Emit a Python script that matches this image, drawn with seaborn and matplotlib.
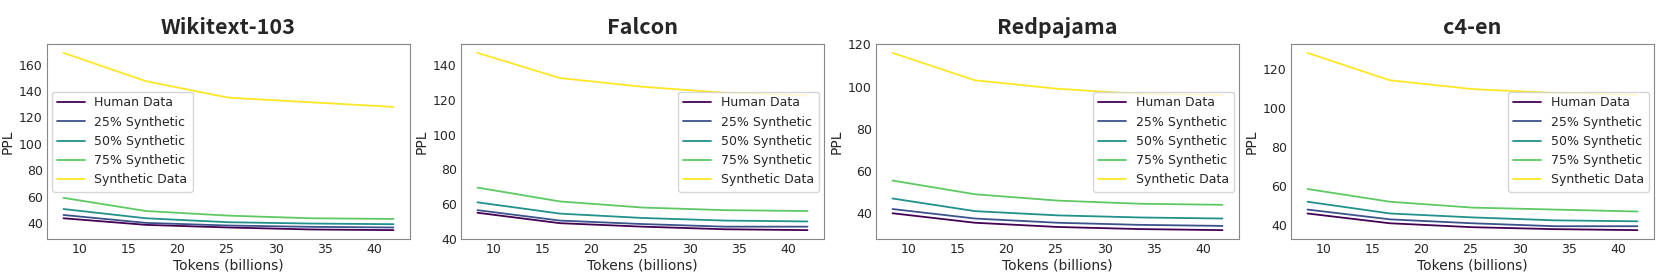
import numpy as np
import pandas as pd
import seaborn as sns
import matplotlib.pyplot as plt
from matplotlib.ticker import MultipleLocator

# data
tokens = [8.4, 16.8, 25.2, 33.6, 42.0]
series = ['Human Data', '25% Synthetic', '50% Synthetic', '75% Synthetic', 'Synthetic Data']
datasets = ['Wikitext-103', 'Falcon', 'Redpajama', 'c4-en']

wiki = [
    [43.5, 38.5, 36.5, 35.0, 34.5],
    [46.0, 40.0, 38.0, 37.0, 36.5],
    [50.5, 43.5, 40.5, 39.5, 39.0],
    [59.0, 49.0, 45.5, 43.5, 43.0],
    [169.0, 147.5, 135.0, 131.5, 128.0],
]
falcon = [
    [55.0, 49.0, 47.0, 45.5, 45.0],
    [56.5, 50.5, 48.5, 47.0, 47.0],
    [61.0, 54.5, 52.0, 50.5, 50.0],
    [69.5, 61.5, 58.0, 56.5, 56.0],
    [147.0, 132.5, 127.5, 124.0, 122.5],
]
redpajama = [
    [40.0, 35.5, 33.5, 32.5, 32.0],
    [42.0, 37.5, 35.5, 34.5, 34.0],
    [47.0, 41.0, 39.0, 38.0, 37.5],
    [55.5, 49.0, 46.0, 44.5, 44.0],
    [116.0, 103.0, 99.0, 96.5, 96.0],
]
c4en = [
    [46.0, 41.0, 39.0, 38.0, 37.5],
    [48.0, 43.0, 41.0, 39.5, 39.5],
    [52.0, 46.0, 44.0, 42.5, 42.0],
    [58.5, 52.0, 49.0, 48.0, 47.0],
    [128.0, 114.0, 109.5, 107.5, 106.5],
]
all_values = [wiki, falcon, redpajama, c4en]
legend_locs = ['center left', 'center right', 'center right', 'center right']

sns.set_style('white')
plt.rcParams['font.family'] = ['DejaVu Sans']
palette = [tuple(c) for c in plt.cm.viridis(np.linspace(0, 1, len(series)))]

fig = plt.figure(figsize=(16.61, 2.76), dpi=100)
lefts = [47, 461, 876, 1291]
W, H = 1661, 276
for i, name in enumerate(datasets):
    ax = fig.add_axes([lefts[i] / W, 1 - 239 / H, 363 / W, (239 - 44) / H])
    rows = []
    for s, vals in zip(series, all_values[i]):
        for t, v in zip(tokens, vals):
            rows.append({'Tokens': t, 'PPL': v, 'Series': s})
    df = pd.DataFrame(rows)
    sns.lineplot(data=df, x='Tokens', y='PPL', hue='Series', hue_order=series,
                 palette=palette, ax=ax, linewidth=1.3)
    ax.set_title(name, fontsize=15.5, fontweight='bold',
                 family=['Noto Sans CJK SC', 'DejaVu Sans'], pad=7)
    ax.set_xlabel('Tokens (billions)', fontsize=10, labelpad=2)
    ax.set_ylabel('PPL', fontsize=10, labelpad=3)
    ax.tick_params(labelsize=9, length=0, pad=3)
    ax.set_xticks([10, 15, 20, 25, 30, 35, 40])
    ax.yaxis.set_major_locator(MultipleLocator(20))
    for sp in ax.spines.values():
        sp.set_color('#888888')
    ax.legend(loc=legend_locs[i], fontsize=9, frameon=True, handlelength=2.2,
              borderaxespad=0.4)

fig.savefig('out.png', dpi=100)
